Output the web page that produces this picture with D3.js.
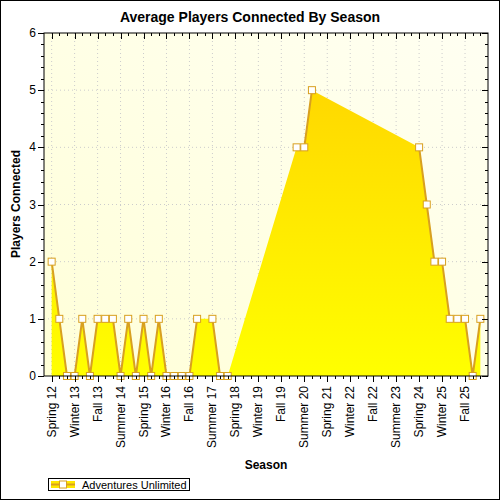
<!DOCTYPE html><html><head><script src="https://cdn.jsdelivr.net/npm/d3@7"></script>
<style>body{margin:0}svg{display:block}text{font-family:"Liberation Sans",Arial,sans-serif}</style></head><body>
<script>
const seasons=["Spring","Summer","Fall","Winter"];
const categories=[];
for(let i=0;i<57;i++){const y=12+Math.floor((i+1)/4);categories.push(seasons[i%4]+" "+y);}
// Winter belongs to next year: Spring12,Summer12,Fall12,Winter13,...
const values=[2,1,0,0,1,0,1,1,1,0,1,0,1,0,1,0,0,0,0,1,null,1,0,0,
 null,null,null,null,null,null,null,null,4,4,5,
 null,null,null,null,null,null,null,null,null,null,null,null,null,
 4,3,2,2,1,1,1,0,1];
const yTicks=[0,1,2,3,4,5,6];
const seriesName="Adventures Unlimited";
const W=500,H=500,L=44,R=488,T=33,B=376;
const svg=d3.select("body").append("svg").attr("width",W).attr("height",H);
const defs=svg.append("defs");
const bg=defs.append("linearGradient").attr("id","bg").attr("x1",0).attr("y1",1).attr("x2",1).attr("y2",0);
bg.append("stop").attr("offset",0).attr("stop-color","#ffffd8");
bg.append("stop").attr("offset",1).attr("stop-color","#fffff2");
const ag=defs.append("linearGradient").attr("id","ag").attr("x1",0).attr("y1",0).attr("x2",0).attr("y2",1);
ag.append("stop").attr("offset",0).attr("stop-color","#ffd800");
ag.append("stop").attr("offset",1).attr("stop-color","#ffff00");
svg.append("rect").attr("x",0.5).attr("y",0.5).attr("width",W-1).attr("height",H-1).attr("fill","#fff").attr("stroke","#000");
const x=d3.scaleLinear().domain([-1,57]).range([L,R]);
const y=d3.scaleLinear().domain([0,6]).range([B,T]);
svg.append("rect").attr("x",L).attr("y",T).attr("width",R-L).attr("height",B-T).attr("fill","url(#bg)");
const pts=values.map((v,i)=>({i,v}));
const g=svg.append("g");
// grid
g.selectAll(".gy").data(yTicks.slice(1,-1)).join("line").attr("x1",L).attr("x2",R).attr("y1",d=>y(d)).attr("y2",d=>y(d)).attr("stroke","#ccc").attr("stroke-dasharray","1,3");
const major=d3.range(0,57,3);
g.selectAll(".gx").data(major).join("line").attr("y1",T).attr("y2",B).attr("x1",d=>x(d)).attr("x2",d=>x(d)).attr("stroke","#ccc").attr("stroke-dasharray","1,3");
const def=pts.filter(d=>d.v!=null);
g.append("path").datum(def).attr("fill","url(#ag)").attr("d",d3.area().x(d=>x(d.i)).y0(y(0)).y1(d=>y(d.v)));
g.append("path").datum(pts).attr("fill","none").attr("stroke","#d8a020").attr("stroke-width",2)
 .attr("d",d3.line().defined(d=>d.v!=null).x(d=>x(d.i)).y(d=>y(d.v)));
g.selectAll(".m").data(def).join("rect").attr("x",d=>x(d.i)-3.5).attr("y",d=>y(d.v)-3.5).attr("width",7).attr("height",7)
 .attr("fill","#fff").attr("stroke","#d8a020").attr("stroke-width",1);
// axes
const ax=svg.append("g");
ax.append("rect").attr("x",L).attr("y",T).attr("width",R-L).attr("height",B-T).attr("fill","none").attr("stroke","#000");
const minorY=d3.range(0,30.01,1).map(d=>d/5);
ax.selectAll(".ty").data(minorY).join("line").attr("x1",d=>L-(d%1===0?6:3)).attr("x2",L).attr("y1",d=>Math.round(y(d))+.5).attr("y2",d=>Math.round(y(d))+.5).attr("stroke","#000");
ax.selectAll(".tyr").data(minorY).join("line").attr("x1",R).attr("x2",d=>R-(d%1===0?6:3)).attr("y1",d=>Math.round(y(d))+.5).attr("y2",d=>Math.round(y(d))+.5).attr("stroke","#000");
const allX=d3.range(0,57);
ax.selectAll(".tx").data(allX).join("line").attr("y1",B).attr("y2",d=>B+(d%3===0?6:3)).attr("x1",d=>Math.round(x(d))+.5).attr("x2",d=>Math.round(x(d))+.5).attr("stroke","#000");
ax.selectAll(".txt").data(allX).join("line").attr("y1",T).attr("y2",d=>T+(d%3===0?6:3)).attr("x1",d=>Math.round(x(d))+.5).attr("x2",d=>Math.round(x(d))+.5).attr("stroke","#000");
ax.selectAll(".ly").data(yTicks).join("text").attr("x",L-8).attr("y",d=>y(d)+4).attr("text-anchor","end").attr("font-size",12).text(d=>d);
ax.selectAll(".lx").data(major).join("text").attr("transform",d=>`translate(${x(d)+4},${B+10}) rotate(-90)`).attr("text-anchor","end").attr("font-size",12).text(d=>categories[d]);
svg.append("text").attr("x",250).attr("y",22).attr("text-anchor","middle").attr("font-size",14).attr("font-weight","bold").text("Average Players Connected By Season");
svg.append("text").attr("x",266).attr("y",469).attr("text-anchor","middle").attr("font-size",12).attr("font-weight","bold").text("Season");
svg.append("text").attr("transform","translate(20,204) rotate(-90)").attr("text-anchor","middle").attr("font-size",12).attr("font-weight","bold").text("Players Connected");
const lg=svg.append("g");
lg.append("rect").attr("x",48.5).attr("y",478.5).attr("width",141).attr("height",12).attr("fill","#fff").attr("stroke","#000");
lg.append("rect").attr("x",51).attr("y",481).attr("width",24).attr("height",7).attr("fill","#ffe800");
lg.append("line").attr("x1",51).attr("x2",75).attr("y1",484.5).attr("y2",484.5).attr("stroke","#d8a020").attr("stroke-width",2);
lg.append("rect").attr("x",59.5).attr("y",481).attr("width",7).attr("height",7).attr("fill","#fff").attr("stroke","#d8a020");
lg.append("text").attr("x",82).attr("y",489).attr("font-size",11).text(seriesName);
</script></body></html>
